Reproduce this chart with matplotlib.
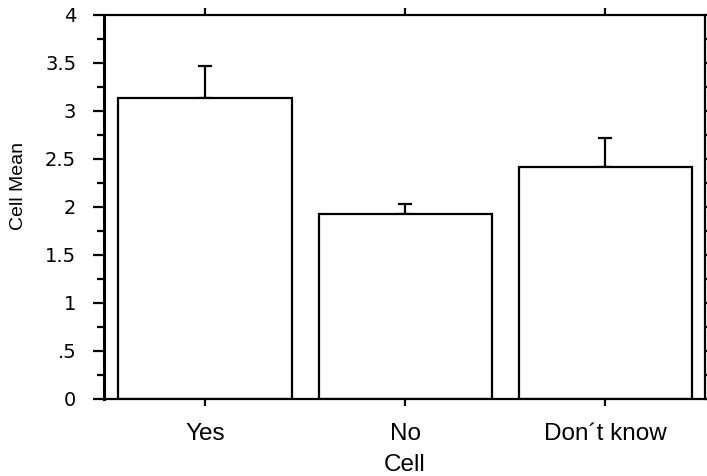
import matplotlib.pyplot as plt
import numpy as np

plt.rcParams['font.family'] = ['Liberation Sans', 'DejaVu Sans']

categories = ["Yes", "No", "Don\u00b4t know"]
means = [3.135, 1.924, 2.42]
err_upper = [0.335, 0.104, 0.30]
y_ticks = [0, 0.5, 1, 1.5, 2, 2.5, 3, 3.5, 4]
y_tick_labels = ["0", ".5", "1", "1.5", "2", "2.5", "3", "3.5", "4"]

fig = plt.figure(figsize=(7.07, 4.76), dpi=100)
ax = fig.add_axes([104/707, 1 - 399/476, 601/707, 384/476])

x = np.arange(len(categories))
ax.bar(x, means, width=0.865, color="white", edgecolor="black", linewidth=1.6, zorder=2)
ax.errorbar(x, means, yerr=[np.zeros(len(means)), err_upper], fmt="none",
            ecolor="black", elinewidth=1.6, capsize=5, capthick=1.6, zorder=1)

ax.set_xlim(-0.505, 2.5)
ax.set_ylim(0, 4)
ax.set_xticks(x)
ax.set_xticklabels(categories, fontsize=17.5)
ax.set_yticks(y_ticks)
ax.set_yticklabels(y_tick_labels, family=["DejaVu Sans"], fontsize=14)
ax.set_yticks(np.arange(0.25, 4, 0.5), minor=True)

for s in ax.spines.values():
    s.set_linewidth(1.6)
ax.spines["left"].set_linewidth(2.2)

ax.tick_params(axis="y", which="major", direction="out", length=8, width=1.6,
               pad=12, right=True)
ax.tick_params(axis="y", which="minor", direction="out", length=5, width=1.6, right=True)
ax.tick_params(axis="x", which="major", direction="out", length=5, width=1.6,
               pad=12, top=True)

# y label is smaller than the x labels in the original
ax.set_ylabel("Cell Mean", fontsize=14, va="center")
ax.set_xlabel("Cell", fontsize=17.5, va="center")
ax.yaxis.set_label_coords(-0.142, 0.555)
ax.xaxis.set_label_coords(0.5, -0.172)

fig.savefig("out.png", dpi=100)
